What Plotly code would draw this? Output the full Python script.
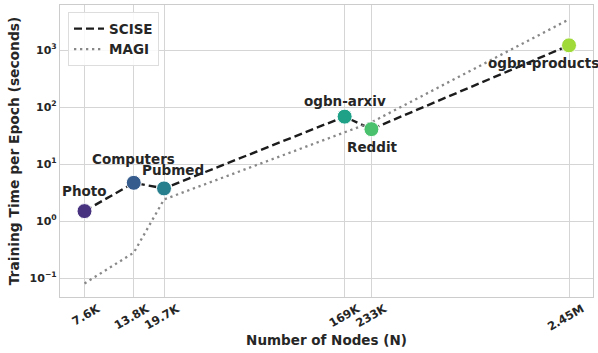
import numpy as np
import plotly.graph_objects as go

datasets = ["Photo", "Computers", "Pubmed", "ogbn-arxiv", "Reddit", "ogbn-products"]
num_nodes = [7650, 13752, 19717, 169343, 232965, 2449029]
tick_labels = ["7.6K", "13.8K", "19.7K", "169K", "233K", "2.45M"]
scise_time = [1.5, 4.7, 3.75, 68, 41, 1210]
magi_time = [0.081, 0.28, 2.4, 37, 54, 3450]
point_colors = ["#46327e", "#365c8d", "#277f8e", "#1fa187", "#4ac16d", "#a0da39"]

# label offsets in pixels (dx, dy)
label_offsets = {
    "Photo": (0, 20),
    "Computers": (0, 24),
    "Pubmed": (9, 18),
    "ogbn-arxiv": (0, 16),
    "Reddit": (1, -18),
    "ogbn-products": (-26, -18),
}

FONT = "DejaVu Sans"
TXT = "#262626"
fig = go.Figure()

fig.add_trace(go.Scatter(
    x=num_nodes, y=scise_time, mode="lines", name="<b>SCISE</b>",
    line=dict(color="#1c1c1c", width=2.4, dash="8px,4px"),
))
fig.add_trace(go.Scatter(
    x=num_nodes, y=magi_time, mode="lines", name="<b>MAGI</b>",
    line=dict(color="#888888", width=2.3, dash="2.3px,3.7px"),
))
fig.add_trace(go.Scatter(
    x=num_nodes, y=scise_time, mode="markers", showlegend=False,
    marker=dict(color=point_colors, size=15, line=dict(color="white", width=1)),
))

for name, xv, yv in zip(datasets, num_nodes, scise_time):
    dx, dy = label_offsets[name]
    fig.add_annotation(
        x=np.log10(xv), y=np.log10(yv), text=f"<b>{name}</b>",
        showarrow=False, xshift=dx, yshift=dy,
        font=dict(family=FONT, size=13.5, color=TXT),
    )

ytick_vals = [0.1, 1, 10, 100, 1000]
ytick_text = ["<b>10<sup>−1</sup></b>", "<b>10<sup>0</sup></b>", "<b>10<sup>1</sup></b>",
              "<b>10<sup>2</sup></b>", "<b>10<sup>3</sup></b>"]

fig.update_xaxes(
    type="log", range=[3.757, 6.513], automargin=False,
    tickvals=num_nodes, ticktext=[f"<b>{t}</b>" for t in tick_labels],
    tickangle=-30, tickfont=dict(family=FONT, size=11.5, color=TXT),
    ticklabelshift=13, ticklabelstandoff=0,
    showgrid=True, gridcolor="#d5d5d5", gridwidth=1,
    showline=True, linecolor="#cccccc", linewidth=1.2, mirror=True,
    zeroline=False, ticks="",
    title=dict(text="<b>Number of Nodes (N)</b>", font=dict(family=FONT, size=13.5, color=TXT), standoff=2),
)
fig.update_yaxes(
    type="log", range=[-1.33, 3.79], automargin=False,
    tickvals=ytick_vals, ticktext=ytick_text,
    tickfont=dict(family=FONT, size=11, color=TXT),
    showgrid=True, gridcolor="#d5d5d5", gridwidth=1,
    showline=True, linecolor="#cccccc", linewidth=1.2, mirror=True,
    zeroline=False, ticks="",
    title=dict(text="<b>Training Time per Epoch (seconds)</b>", font=dict(family=FONT, size=13.8, color=TXT), standoff=6),
)

fig.update_layout(
    width=598, height=353,
    margin=dict(l=60, r=5, t=5, b=56),
    plot_bgcolor="white", paper_bgcolor="white",
    font=dict(family=FONT, color=TXT),
    legend=dict(
        x=0.015, y=0.975, xanchor="left", yanchor="top",
        bgcolor="rgba(255,255,255,0.85)", bordercolor="#dddddd", borderwidth=1,
        font=dict(family=FONT, size=13.5, color=TXT),
        itemwidth=30, tracegroupgap=0,
    ),
)

fig.write_html("out.html")
